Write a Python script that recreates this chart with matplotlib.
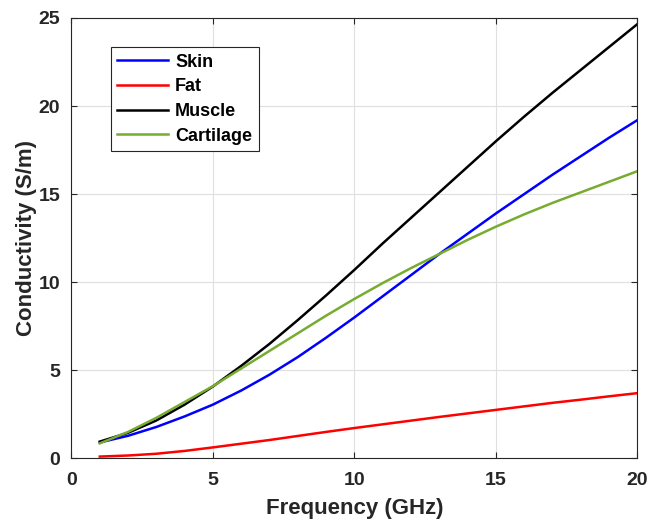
import matplotlib
matplotlib.use("Agg")
import matplotlib.pyplot as plt

# frequencies (GHz) and conductivity (S/m)
freq = [1, 2, 3, 4, 5, 6, 7, 8, 9, 10, 11, 12, 13, 14, 15, 16, 17, 18, 19, 20]
skin = [0.9, 1.28, 1.78, 2.38, 3.05, 3.85, 4.75, 5.75, 6.85, 8.0,
        9.2, 10.4, 11.6, 12.75, 13.9, 15.0, 16.1, 17.15, 18.2, 19.2]
fat = [0.1, 0.16, 0.26, 0.42, 0.62, 0.83, 1.04, 1.27, 1.5, 1.72,
       1.93, 2.14, 2.35, 2.55, 2.75, 2.95, 3.15, 3.33, 3.52, 3.7]
muscle = [0.95, 1.45, 2.15, 3.05, 4.08, 5.25, 6.5, 7.85, 9.25, 10.7,
          12.2, 13.65, 15.1, 16.55, 18.0, 19.4, 20.75, 22.05, 23.35, 24.65]
cartilage = [0.85, 1.5, 2.3, 3.2, 4.1, 5.1, 6.1, 7.1, 8.1, 9.05,
             9.95, 10.8, 11.6, 12.4, 13.15, 13.85, 14.5, 15.1, 15.7, 16.3]

plt.rcParams["font.family"] = ["Liberation Sans", "DejaVu Sans"]
plt.rcParams["font.weight"] = "bold"

fig = plt.figure(figsize=(6.54, 5.29), dpi=100)
ax = fig.add_axes([0.1093, 0.1336, 0.8652, 0.8324])

ax.plot(freq, skin, color=(0, 0, 1), lw=1.8, label="Skin")
ax.plot(freq, fat, color=(1, 0, 0), lw=1.8, label="Fat")
ax.plot(freq, muscle, color="black", lw=1.8, label="Muscle")
ax.plot(freq, cartilage, color="#77AC30", lw=1.8, label="Cartilage")

ax.set_xlim(0, 20); ax.set_ylim(0, 25)
ax.set_xticks([0, 5, 10, 15, 20]); ax.set_yticks([0, 5, 10, 15, 20, 25])
ax.grid(True, color="#dfdfdf", lw=0.8)
ax.set_axisbelow(True)
for s in ax.spines.values():
    s.set_color("#262626"); s.set_linewidth(0.8)
ax.tick_params(direction="in", top=True, right=True, labelsize=14,
               colors="#262626", length=4, pad=10)
ax.tick_params(axis="y", pad=8)
for t in ax.get_xticklabels() + ax.get_yticklabels():
    t.set_fontweight("bold")
ax.set_xlabel("Frequency (GHz)", fontsize=16, fontweight="bold", color="#262626", labelpad=6)
ax.set_ylabel("Conductivity (S/m)", fontsize=16, fontweight="bold", color="#262626", labelpad=1)

leg = ax.legend(loc="upper left", bbox_to_anchor=(0.07, 0.933), borderaxespad=0,
                fancybox=False, edgecolor="#262626", framealpha=1,
                prop={"size": 13, "weight": "bold"}, handlelength=2.8,
                labelspacing=0.42, borderpad=0.35, handletextpad=0.4)
leg.get_frame().set_linewidth(0.8)

fig.savefig("out.png", dpi=100)
